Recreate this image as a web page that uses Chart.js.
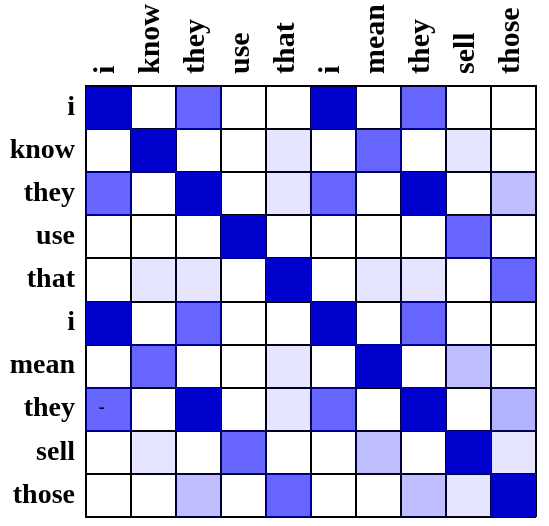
<!DOCTYPE html>
<html>
<head>
<meta charset="utf-8">
<script src="https://cdn.jsdelivr.net/npm/chart.js@4"></script>
<style>
  html, body { margin: 0; padding: 0; background: #fff; }
  #wrap { width: 549px; height: 526px; }
</style>
</head>
<body>
<div id="wrap"><canvas id="heat"></canvas></div>
<script>
const rowLabels = ['i', 'know', 'they', 'use', 'that', 'i', 'mean', 'they', 'sell', 'those'];
const colLabels = ['i', 'know', 'they', 'use', 'that', 'i', 'mean', 'they', 'sell', 'those'];

// attention weights, one array per row word (0 = none, 1 = full)
const row0 = [1, 0, 0.6, 0, 0, 1, 0, 0.6, 0, 0];
const row1 = [0, 1, 0, 0, 0.1, 0, 0.6, 0, 0.1, 0];
const row2 = [0.6, 0, 1, 0, 0.1, 0.6, 0, 1, 0, 0.25];
const row3 = [0, 0, 0, 1, 0, 0, 0, 0, 0.6, 0];
const row4 = [0, 0.1, 0.1, 0, 1, 0, 0.1, 0.1, 0, 0.6];
const row5 = [1, 0, 0.6, 0, 0, 1, 0, 0.6, 0, 0];
const row6 = [0, 0.6, 0, 0, 0.1, 0, 1, 0, 0.25, 0];
const row7 = [0.6, 0, 1, 0, 0.1, 0.6, 0, 1, 0, 0.3];
const row8 = [0, 0.1, 0, 0.6, 0, 0, 0.25, 0, 1, 0.1];
const row9 = [0, 0, 0.25, 0, 0.6, 0, 0, 0.25, 0.1, 1];
const weights = [row0, row1, row2, row3, row4, row5, row6, row7, row8, row9];

// stray mark left in one cell of the original
const notes = [{ row: 7, col: 0, text: '-' }];

const cellColor = (v) => v >= 1 ? '#0000cd' : `rgba(0, 0, 255, ${v})`;

Chart.defaults.color = '#000';
Chart.defaults.font.family = '"Liberation Serif", "Times New Roman", serif';
Chart.defaults.font.weight = 'bold';

const notePlugin = {
  id: 'notes',
  afterDatasetsDraw(chart) {
    const { ctx, scales: { x, y } } = chart;
    const half = (x.getPixelForValue(1) - x.getPixelForValue(0)) / 2;
    ctx.save();
    ctx.fillStyle = '#000';
    ctx.font = 'bold 18px "Liberation Serif", serif';
    ctx.textAlign = 'center';
    ctx.textBaseline = 'middle';
    notes.forEach((n) => {
      const cx = x.getPixelForValue(n.col) - half * 0.3;
      const cy = (y.getPixelForValue(n.row) + y.getPixelForValue(n.row + 1)) / 2 - 1;
      ctx.fillText(n.text, cx, cy);
    });
    ctx.restore();
  }
};

new Chart(document.getElementById('heat'), {
  type: 'bar',
  data: {
    labels: colLabels,
    datasets: weights.map((row, r) => ({
      label: rowLabels[r],
      data: row.map(() => [r, r + 1]),
      backgroundColor: row.map(cellColor),
      borderWidth: 0,
      barPercentage: 1,
      categoryPercentage: 1
    }))
  },
  options: {
    responsive: true,
    maintainAspectRatio: false,
    animation: false,
    layout: { padding: { right: 13, bottom: 9 } },
    plugins: { legend: { display: false }, tooltip: { enabled: false } },
    scales: {
      x: {
        position: 'top',
        stacked: true,
        z: 1,
        grid: { color: '#000', lineWidth: 2, drawTicks: false, offset: true },
        border: { color: '#000', width: 2 },
        ticks: { minRotation: 90, maxRotation: 90, padding: 12, labelOffset: 34, font: { size: 30 } },
        afterFit: (s) => { s.height = 86; s.paddingLeft = 0; s.paddingRight = 0; }
      },
      y: {
        min: 0,
        max: 10,
        reverse: true,
        z: 1,
        grid: { color: '#000', lineWidth: 2, drawTicks: false },
        border: { color: '#000', width: 2 },
        ticks: {
          stepSize: 1,
          padding: 11,
          labelOffset: 21.5,
          font: { size: 28 },
          callback: (v) => rowLabels[v] ?? ''
        },
        afterFit: (s) => { s.width = 86; s.paddingTop = 0; s.paddingBottom = 0; }
      }
    }
  },
  plugins: [notePlugin]
});
</script>
</body>
</html>
